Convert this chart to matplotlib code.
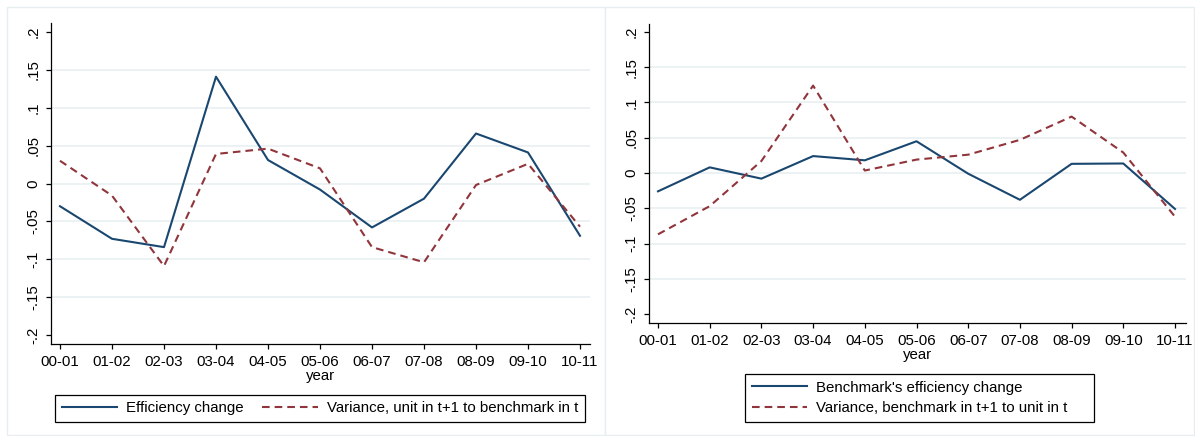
#libraries
import numpy as np
import matplotlib.pyplot as plt
from matplotlib.patches import Rectangle
from matplotlib.ticker import FuncFormatter

plt.rcParams['font.family'] = ['Liberation Sans', 'DejaVu Sans']
plt.rcParams['font.size'] = 10.8

# data
years = ['00-01', '01-02', '02-03', '03-04', '04-05', '05-06',
         '06-07', '07-08', '08-09', '09-10', '10-11']
eff_change = [-0.030, -0.073, -0.084, 0.141, 0.031, -0.008,
              -0.058, -0.020, 0.066, 0.041, -0.069]
var_unit_bench = [0.030, -0.016, -0.109, 0.039, 0.046, 0.020,
                  -0.084, -0.104, -0.002, 0.026, -0.057]
bench_eff_change = [-0.026, 0.008, -0.008, 0.024, 0.018, 0.045,
                    -0.001, -0.038, 0.013, 0.0135, -0.051]
var_bench_unit = [-0.087, -0.047, 0.017, 0.124, 0.0035, 0.019,
                  0.026, 0.047, 0.080, 0.029, -0.062]
yticks = [-0.2, -0.15, -0.1, -0.05, 0, 0.05, 0.1, 0.15, 0.2]

NAVY = '#1a476f'
MAROON = '#90353b'
GRID = '#e9f0f2'
LW = 1.5
DASH = (0, (5.5 / LW, 3.6 / LW))
FS = 10.8
W, H = 1195, 436


def stata_fmt(v, pos):
    '''labels like .15 and -.05'''
    if abs(v) < 1e-9:
        return '0'
    s = ('%g' % v)
    return s.replace('0.', '.')


def style_axis(ax, x, xmargin):
    ax.set_xlim(x[0] - xmargin[0], x[-1] + xmargin[1])
    ax.set_xticks(x)
    ax.set_xticklabels(years)
    ax.set_yticks(yticks)
    ax.yaxis.set_major_formatter(FuncFormatter(stata_fmt))
    for lab in ax.get_yticklabels():
        lab.set_rotation(90)
        lab.set_va('center')
    for t in yticks[1:-1]:
        ax.axhline(t, color=GRID, lw=1.2, zorder=0)
    for side in ['top', 'right']:
        ax.spines[side].set_visible(False)
    for side in ['left', 'bottom']:
        ax.spines[side].set_linewidth(0.9)
    ax.tick_params(direction='out', length=3.8, width=0.9, labelsize=FS)
    ax.tick_params(axis='x', pad=3.8)
    ax.tick_params(axis='y', pad=3.5)
    ax.set_xlabel('year', fontsize=FS, labelpad=0)


def add_legend(ax, handles, labels, box, ncol, spacing=0.3):
    '''legend frame placed in pixel box (left, top, right, bottom)'''
    l, t, r, b = box
    leg = ax.legend(handles, labels, ncol=ncol, loc='lower left', mode='expand',
                    bbox_to_anchor=(l / W, 1 - b / H, (r - l) / W, (b - t) / H),
                    bbox_transform=fig.transFigure, borderaxespad=0,
                    frameon=True, fancybox=False, edgecolor='black', framealpha=1,
                    handlelength=3.7, handletextpad=0.6, columnspacing=1.4,
                    borderpad=0.45, labelspacing=spacing, fontsize=FS)
    leg.get_frame().set_linewidth(0.9)
    return leg


fig = plt.figure(figsize=(W / 100, H / 100), dpi=100)

# panel frames
for x0, w in [(7 / W, 598 / W), (605 / W, 589 / W)]:
    fig.patches.append(Rectangle((x0, 1 / H), w, 428 / H, transform=fig.transFigure,
                                 facecolor='white', edgecolor='#e6eef0', lw=1, zorder=-1))

x = np.arange(len(years))

# left panel
ax1 = fig.add_axes([51 / W, 1 - 344 / H, 539 / W, 321 / H])
l1, = ax1.plot(x, eff_change, color=NAVY, lw=LW)
l2, = ax1.plot(x, var_unit_bench, color=MAROON, lw=LW, ls=DASH)
ax1.set_ylim(-0.2 - 9 / 758, 0.2 + 9 / 758)
style_axis(ax1, x, (9 / 52, 10 / 52))
add_legend(ax1, [l1, l2], ['Efficiency change', 'Variance, unit in t+1 to benchmark in t'],
           (55, 393, 585, 422), 2)

# right panel
ax2 = fig.add_axes([649 / W, 1 - 323 / H, 537 / W, 299 / H])
r1, = ax2.plot(x, bench_eff_change, color=NAVY, lw=LW)
r2, = ax2.plot(x, var_bench_unit, color=MAROON, lw=LW, ls=DASH)
ax2.set_ylim(-0.2 - 9 / 705, 0.2 + 8 / 705)
style_axis(ax2, x, (9 / 51.7, 11 / 51.7))
add_legend(ax2, [r1, r2], ["Benchmark's efficiency change", 'Variance, benchmark in t+1 to unit in t'],
           (745, 372, 1094, 422), 1, spacing=0.45)

fig.savefig('out.png', dpi=100)
